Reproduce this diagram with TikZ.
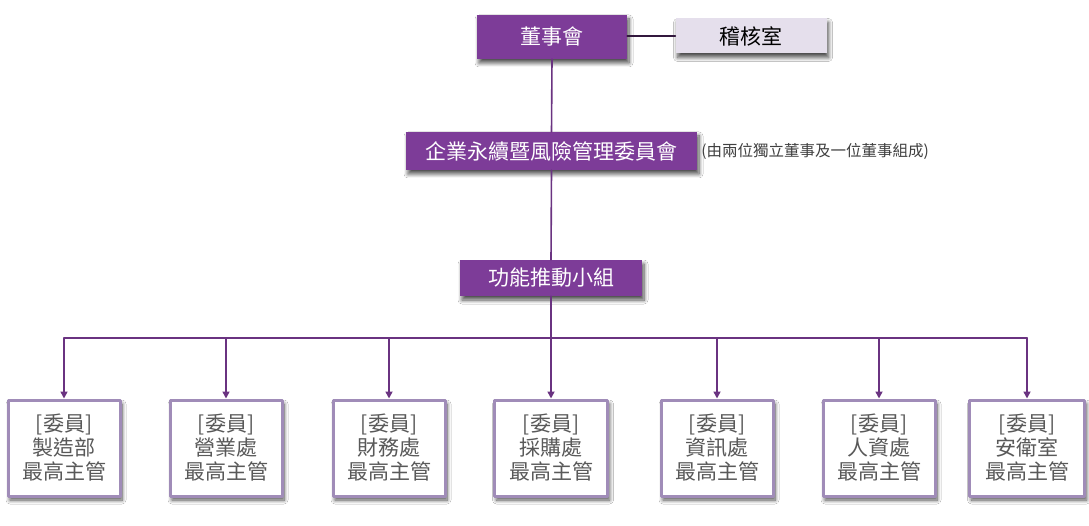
\documentclass[tikz,border=0pt]{standalone}
\usepackage{fontspec}
\newfontfamily\cjk{Noto Sans CJK TC}
\usetikzlibrary{arrows.meta,shadows.blur}
\definecolor{tim}{HTML}{7D3C98}
\definecolor{timnhat}{HTML}{E5DFEC}
\definecolor{vien}{HTML}{A08CB8}
\definecolor{chu}{HTML}{595959}
\begin{document}
\begin{tikzpicture}[x=1pt,y=-1pt,font=\cjk, line join=round, line cap=round, >={Triangle[length=7pt,width=7pt]}]
			%%%%%%%%%STYLE
			\tikzset{bong/.style={blur shadow={shadow xshift=2pt,shadow yshift=-4pt,shadow blur radius=4pt,shadow blur steps=8,shadow opacity=70}},
				hop-tim/.style={fill=tim,text=white,font=\cjk\fontsize{21}{24}\selectfont,inner sep=0pt,bong},
				hop-uy/.style={fill=white,draw=vien,line width=3pt,text=chu,align=center,inner sep=0pt,
					font=\cjk\fontsize{21}{24}\selectfont,minimum width=112pt,minimum height=96pt,bong},
				duong/.style={tim!85!black,line width=1.6pt}}
			\useasboundingbox(0,0)rectangle(1089,526);
			\fill[white](0,0)rectangle(1089,526);
			%%%%%%%%%%%%%%%%%%%Hop tren
			\path(552,37)node[hop-tim,minimum width=150pt,minimum height=44pt](dongsu){董事會}
			(751,36)node[fill=timnhat,text=black,font=\cjk\fontsize{21}{24}\selectfont,minimum width=151pt,minimum height=35pt,inner sep=0pt,bong](kiemtoan){稽核室}
			(551.5,151)node[hop-tim,minimum width=291pt,minimum height=38pt](uyban){企業永續暨風險管理委員會}
			(551,278)node[hop-tim,minimum width=182pt,minimum height=36pt](nhom){功能推動小組};
			\path(uyban.east)++(4,0)node[anchor=west,inner sep=0pt,text=black!75,font=\cjk\fontsize{15.5}{17}\selectfont](ghichu){(由兩位獨立董事及一位董事組成)};
			%%%%%%%%%%%%%%%%%%%Hop duoi
			\foreach \x/\ten/\w [count=\i] in{64/製造部/112,226/營業處/112,389/財務處/112,551/採購處/113,717/資訊處/112,879/人資處/112,1027/安衛室/115}{
				\path(\x,448)node[hop-uy,minimum width=\w pt](m\i){[委員]\\\ten\\最高主管};
			}
			%%%%%%%%%%%%%%%%%%%Duong noi
			\coordinate(truc) at (551,338);
			\draw[line width=1.6pt,black!60!tim](dongsu.east|-kiemtoan.west)--(kiemtoan.west);
			\begin{scope}[duong]
				\draw(dongsu.south)--(uyban.north);
				\draw(uyban.south)--(nhom.north);
				\draw(nhom.south)--(truc);
				\draw(m1.north|-truc)--(m7.north|-truc);
				\foreach \i in{1,...,7}
				\draw[->](m\i.north|-truc)--(m\i.north);
			\end{scope}
	\end{tikzpicture}
\end{document}
